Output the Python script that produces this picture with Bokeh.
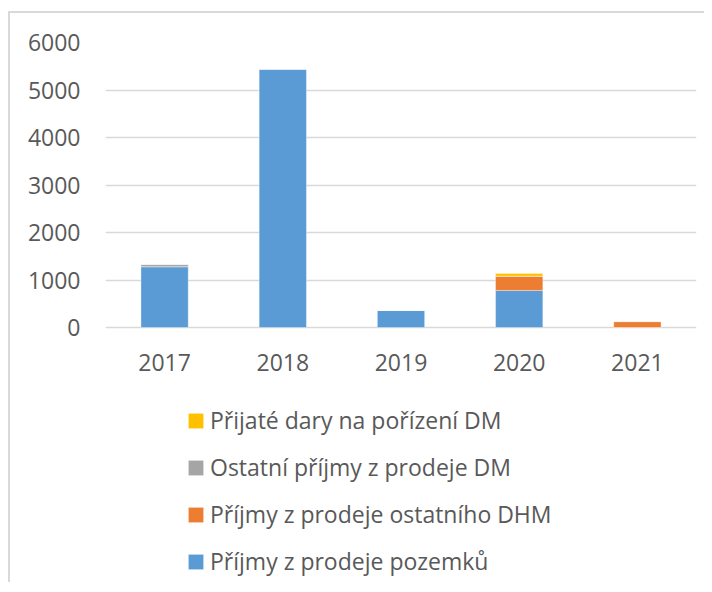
from bokeh.plotting import figure
from bokeh.models import ColumnDataSource, Legend, LegendItem, FactorRange, Range1d, FixedTicker
from bokeh.embed import file_html
from bokeh.resources import INLINE

years = ["2017", "2018", "2019", "2020", "2021"]
pozemky = [1280, 5440, 360, 780, 0]
ostatni_dhm = [0, 0, 0, 300, 125]
ostatni_dm = [45, 0, 0, 0, 0]
dary = [0, 0, 0, 55, 0]

series = ["pozemky", "ostatni_dhm", "ostatni_dm", "dary"]
labels = ["Příjmy z prodeje pozemků", "Příjmy z prodeje ostatního DHM",
          "Ostatní příjmy z prodeje DM", "Přijaté dary na pořízení DM"]
colors = ["#5B9BD5", "#ED7D31", "#A5A5A5", "#FFC000"]
y_ticks = [0, 1000, 2000, 3000, 4000, 5000, 6000]

source = ColumnDataSource(dict(years=years, pozemky=pozemky, ostatni_dhm=ostatni_dhm,
                               ostatni_dm=ostatni_dm, dary=dary))

FONT = "Open Sans"
TXT = "#595959"

# layout: the value axis (0..6000) occupies the top 285 px of the frame,
# the rest of the frame below holds the category labels and the legend
Y_MAX = 6000
PLOT_PX = 285
FRAME_H = 540
y_start = -Y_MAX * (FRAME_H - PLOT_PX) / PLOT_PX

p = figure(x_range=FactorRange(*years), y_range=Range1d(y_start, Y_MAX),
           frame_width=591, frame_height=FRAME_H,
           output_backend="svg", toolbar_location=None,
           min_border_left=95, min_border_right=8, min_border_top=29, min_border_bottom=0)
p.styles = {"border-top": "2px solid #D9D9D9", "border-left": "2px solid #D9D9D9",
            "margin-top": "11px", "margin-left": "8px"}

renderers = p.vbar_stack(series, x="years", width=0.4, source=source, color=colors,
                         line_color="white", line_alpha=0.35, line_width=1)

p.outline_line_color = None
p.xgrid.grid_line_color = None
p.ygrid.grid_line_color = "#D9D9D9"
p.ygrid.grid_line_width = 1.5
p.yaxis.ticker = FixedTicker(ticks=y_ticks)

for ax in (p.xaxis, p.yaxis):
    ax.axis_line_color = None
    ax.major_tick_line_color = None
    ax.minor_tick_line_color = None
    ax.major_label_text_font = FONT
    ax.major_label_text_font_size = "23px"
    ax.major_label_text_color = TXT
p.yaxis.major_label_standoff = 19
p.xaxis.major_label_standoff = 20 - (FRAME_H - PLOT_PX)

items = [LegendItem(label=labels[i], renderers=[renderers[i]]) for i in reversed(range(4))]
legend = Legend(items=items, location=(81, 5), orientation="vertical",
                label_text_font=FONT, label_text_font_size="23px", label_text_color=TXT,
                glyph_width=19, glyph_height=19, label_height=20, spacing=15,
                label_standoff=5, padding=0, margin=0,
                border_line_color=None, background_fill_alpha=0)
p.add_layout(legend, "center")

open("out.html", "w").write(file_html(p, INLINE))
